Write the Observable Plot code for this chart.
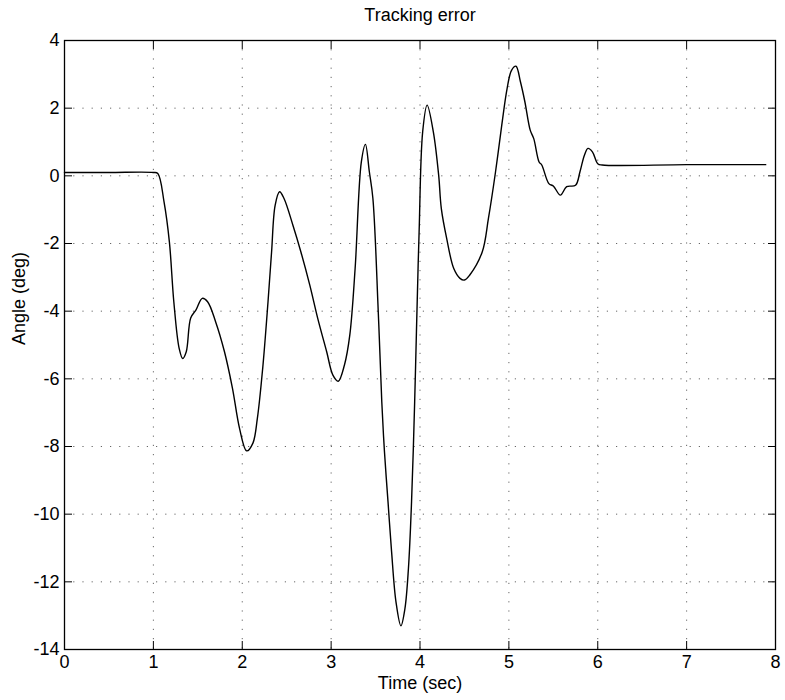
<!DOCTYPE html>
<html>
<head>
<meta charset="utf-8">
<script src="https://cdn.jsdelivr.net/npm/d3@7"></script>
<script src="https://cdn.jsdelivr.net/npm/@observablehq/plot@0.6"></script>
<style>
  html, body { margin: 0; padding: 0; background: #fff; }
  #chart svg { display: block; }
</style>
</head>
<body>
<div id="chart"></div>
<script>
const titleText = "Tracking error";
const xLabel = "Time (sec)";
const yLabel = "Angle (deg)";

const xTicks = [0, 1, 2, 3, 4, 5, 6, 7, 8];
const yTicks = [4, 2, 0, -2, -4, -6, -8, -10, -12, -14];
const xGrid = [1, 2, 3, 4, 5, 6, 7];
const yGrid = [2, 0, -2, -4, -6, -8, -10, -12];

const time = [0, 0.5, 1.0, 1.05, 1.12, 1.18, 1.23, 1.29, 1.33, 1.37, 1.42, 1.48, 1.55, 1.61, 1.70, 1.80, 1.89, 1.97, 2.05, 2.12, 2.17, 2.23, 2.29, 2.33, 2.37, 2.42, 2.47, 2.57, 2.66, 2.76, 2.85, 2.95, 3.02, 3.08, 3.15, 3.21, 3.27, 3.34, 3.386, 3.43, 3.47, 3.53, 3.57, 3.60, 3.64, 3.68, 3.73, 3.785, 3.83, 3.87, 3.905, 3.94, 3.96, 3.99, 4.03, 4.08, 4.15, 4.21, 4.24, 4.30, 4.38, 4.45, 4.50, 4.56, 4.70, 4.77, 4.85, 4.92, 4.98, 5.03, 5.08, 5.13, 5.18, 5.24, 5.28, 5.34, 5.37, 5.45, 5.50, 5.58, 5.65, 5.75, 5.80, 5.85, 5.89, 5.94, 6.00, 6.05, 7.0, 7.89];
const angle = [0.1, 0.1, 0.1, 0.07, -0.77, -1.95, -3.72, -5.1, -5.4, -5.2, -4.2, -3.96, -3.62, -3.72, -4.31, -5.2, -6.28, -7.47, -8.13, -7.9, -7.17, -5.69, -3.72, -2.25, -0.87, -0.47, -0.67, -1.46, -2.25, -3.23, -4.22, -5.2, -5.89, -6.07, -5.59, -4.71, -2.74, 0.41, 0.93, 0.12, -0.67, -4.0, -6.68, -8.15, -9.63, -11.1, -12.6, -13.3, -12.8, -11.6, -9.63, -6.68, -4.6, -1.65, 1.3, 2.09, 1.3, 0.02, -0.97, -1.85, -2.74, -3.03, -3.08, -2.93, -2.25, -1.26, 0.12, 1.5, 2.58, 3.12, 3.24, 2.78, 2.19, 1.35, 1.1, 0.41, 0.32, -0.23, -0.30, -0.57, -0.32, -0.28, 0.12, 0.61, 0.81, 0.71, 0.36, 0.32, 0.33, 0.33];

const data = time.map((t, i) => ({t, a: angle[i]}));
const fmt = d => String(d);
const blank = () => "";
const font = "'Liberation Sans', Arial, Helvetica, sans-serif";
const fs = 18;
const tk = 8;

const chart = Plot.plot({
  width: 785,
  height: 700,
  marginLeft: 64,
  marginRight: 10,
  marginTop: 40,
  marginBottom: 51,
  style: {fontFamily: font, fontSize: fs + "px", color: "#000", background: "#fff"},
  x: {domain: [0, 8]},
  y: {domain: [-14, 4]},
  marks: [
    Plot.ruleX(xGrid, {x: d => d, stroke: "#000", strokeOpacity: 0.6, strokeDasharray: "1.2,8"}),
    Plot.ruleY(yGrid, {y: d => d, stroke: "#000", strokeOpacity: 0.6, strokeDasharray: "1.2,8"}),
    // tick labels
    Plot.axisX({anchor: "bottom", ticks: xTicks, tickFormat: fmt, tickSize: 0, tickPadding: 6, label: null, fontSize: fs}),
    Plot.axisY({anchor: "left", ticks: yTicks, tickFormat: fmt, tickSize: 0, tickPadding: 5, label: null, fontSize: fs}),
    // inward ticks on all four sides
    Plot.axisX({anchor: "bottom", ticks: xTicks, tickFormat: blank, tickSize: tk, dy: -tk, label: null}),
    Plot.axisX({anchor: "top", ticks: xTicks, tickFormat: blank, tickSize: tk, dy: tk, label: null}),
    Plot.axisY({anchor: "left", ticks: yTicks, tickFormat: blank, tickSize: tk, dx: tk, label: null}),
    Plot.axisY({anchor: "right", ticks: yTicks, tickFormat: blank, tickSize: tk, dx: -tk, label: null}),
    Plot.frame({stroke: "#000", strokeWidth: 1.3}),
    Plot.line(data, {x: "t", y: "a", stroke: "#000", strokeWidth: 1.4, curve: "catmull-rom"}),
    Plot.text([titleText], {frameAnchor: "top", dy: -25, lineAnchor: "middle", text: d => d, fontSize: fs, fill: "#000"}),
    Plot.text([xLabel], {frameAnchor: "bottom", dy: 34, lineAnchor: "middle", text: d => d, fontSize: fs, fill: "#000"}),
    Plot.text([yLabel], {frameAnchor: "left", dx: -45, rotate: -90, lineAnchor: "middle", text: d => d, fontSize: fs, fill: "#000"})
  ]
});
document.getElementById("chart").appendChild(chart);
</script>
</body>
</html>
